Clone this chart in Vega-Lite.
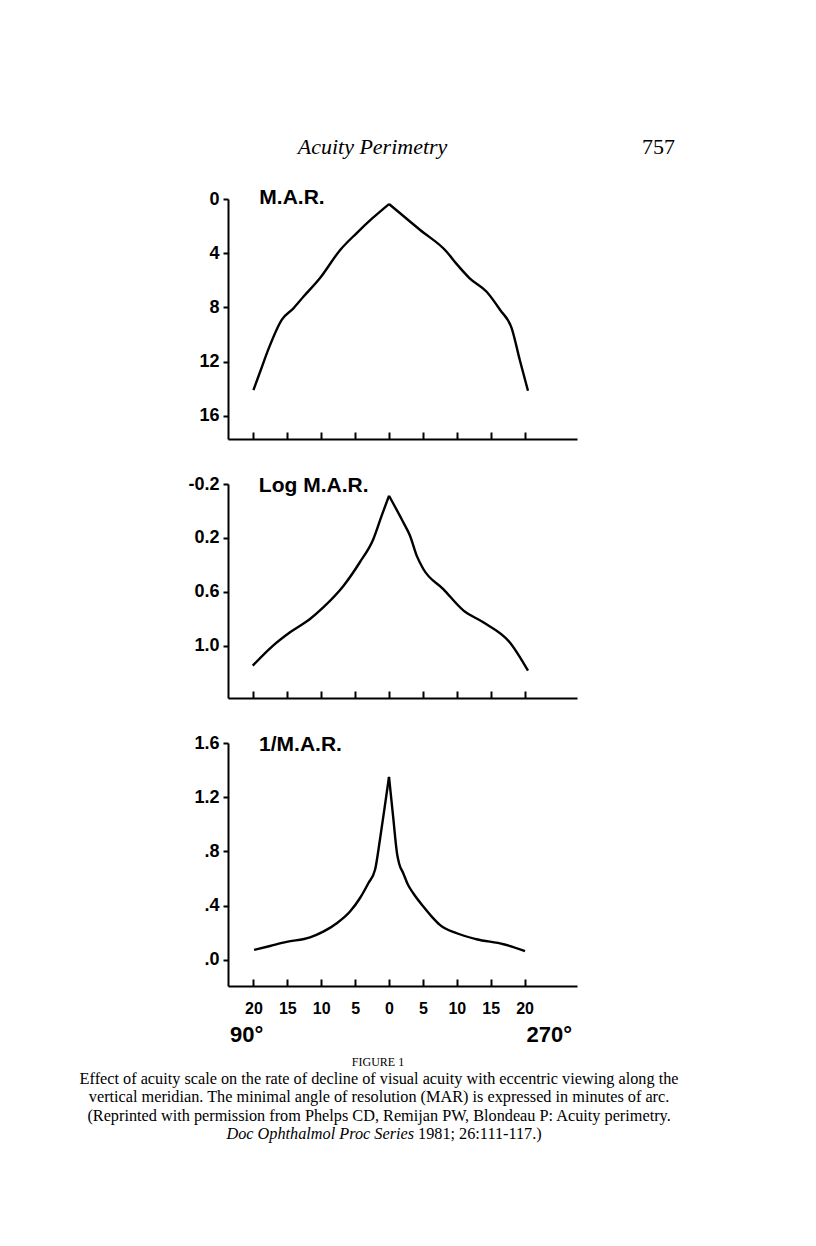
{
  "$schema": "https://vega.github.io/schema/vega-lite/v6.json",
  "background": "white",
  "padding": {"left": 79, "top": 136, "right": 5, "bottom": 5},
  "bounds": "flush",
  "spacing": 45,
  "config": {
    "view": {"stroke": null},
    "font": "Liberation Sans",
    "axis": {
      "grid": false,
      "title": null,
      "domainColor": "black",
      "domainWidth": 2,
      "tickColor": "black",
      "tickWidth": 2,
      "labelColor": "black",
      "labelFont": "Liberation Sans",
      "labelFontWeight": "bold",
      "labelFontSize": 18,
      "labelFlush": false,
      "labelOverlap": false
    },
    "axisY": {"tickSize": 5, "labelPadding": 4},
    "axisX": {"tickSize": -7, "labelFontSize": 16, "labelPadding": 21.6}
  },
  "datasets": {
    "mar": [
      {"side": "90", "ecc": -20.0, "mar": 14.1},
      {"side": "90", "ecc": -18.9, "mar": 12.6},
      {"side": "90", "ecc": -17.8, "mar": 11.1},
      {"side": "90", "ecc": -15.8, "mar": 8.9},
      {"side": "90", "ecc": -14.1, "mar": 8.07},
      {"side": "90", "ecc": -12.6, "mar": 7.2},
      {"side": "90", "ecc": -10.2, "mar": 5.85},
      {"side": "90", "ecc": -7.2, "mar": 3.76},
      {"side": "90", "ecc": -4.8, "mar": 2.53},
      {"side": "90", "ecc": -2.4, "mar": 1.4},
      {"side": "90", "ecc": 0.0, "mar": 0.37},
      {"side": "270", "ecc": 0.0, "mar": 0.37},
      {"side": "270", "ecc": 2.3, "mar": 1.33},
      {"side": "270", "ecc": 4.6, "mar": 2.29},
      {"side": "270", "ecc": 8.5, "mar": 3.89},
      {"side": "270", "ecc": 9.9, "mar": 4.75},
      {"side": "270", "ecc": 11.9, "mar": 5.85},
      {"side": "270", "ecc": 14.4, "mar": 6.84},
      {"side": "270", "ecc": 16.4, "mar": 8.19},
      {"side": "270", "ecc": 18.1, "mar": 9.54},
      {"side": "270", "ecc": 19.3, "mar": 11.9},
      {"side": "270", "ecc": 20.5, "mar": 14.15}
    ],
    "logmar": [
      {"side": "90", "ecc": -20.1, "logmar": 1.149},
      {"side": "90", "ecc": -17.1, "logmar": 1.0},
      {"side": "90", "ecc": -14.6, "logmar": 0.901},
      {"side": "90", "ecc": -11.65, "logmar": 0.802},
      {"side": "90", "ecc": -9.7, "logmar": 0.716},
      {"side": "90", "ecc": -6.7, "logmar": 0.555},
      {"side": "90", "ecc": -4.3, "logmar": 0.381},
      {"side": "90", "ecc": -2.3, "logmar": 0.208},
      {"side": "90", "ecc": -1.08, "logmar": 0.035},
      {"side": "90", "ecc": 0.0, "logmar": -0.113},
      {"side": "270", "ecc": 0.0, "logmar": -0.113},
      {"side": "270", "ecc": 2.1, "logmar": 0.084},
      {"side": "270", "ecc": 3.1, "logmar": 0.184},
      {"side": "270", "ecc": 4.08, "logmar": 0.332},
      {"side": "270", "ecc": 5.06, "logmar": 0.431},
      {"side": "270", "ecc": 8.0, "logmar": 0.58},
      {"side": "270", "ecc": 11.0, "logmar": 0.74},
      {"side": "270", "ecc": 13.9, "logmar": 0.827},
      {"side": "270", "ecc": 17.8, "logmar": 0.975},
      {"side": "270", "ecc": 20.5, "logmar": 1.186}
    ],
    "inv": [
      {"side": "90", "ecc": -19.9, "inv": 0.074},
      {"side": "90", "ecc": -17.55, "inv": 0.103},
      {"side": "90", "ecc": -15.1, "inv": 0.133},
      {"side": "90", "ecc": -11.65, "inv": 0.167},
      {"side": "90", "ecc": -9.7, "inv": 0.209},
      {"side": "90", "ecc": -7.7, "inv": 0.271},
      {"side": "90", "ecc": -5.75, "inv": 0.357},
      {"side": "90", "ecc": -4.3, "inv": 0.455},
      {"side": "90", "ecc": -3.05, "inv": 0.566},
      {"side": "90", "ecc": -2.06, "inv": 0.665},
      {"side": "90", "ecc": -1.33, "inv": 0.89},
      {"side": "90", "ecc": -0.66, "inv": 1.12},
      {"side": "90", "ecc": 0.0, "inv": 1.35},
      {"side": "270", "ecc": 0.0, "inv": 1.35},
      {"side": "270", "ecc": 0.6, "inv": 1.06},
      {"side": "270", "ecc": 1.2, "inv": 0.78},
      {"side": "270", "ecc": 1.5, "inv": 0.71},
      {"side": "270", "ecc": 2.1, "inv": 0.64},
      {"side": "270", "ecc": 2.8, "inv": 0.554},
      {"side": "270", "ecc": 3.6, "inv": 0.49},
      {"side": "270", "ecc": 5.06, "inv": 0.394},
      {"side": "270", "ecc": 6.3, "inv": 0.32},
      {"side": "270", "ecc": 7.5, "inv": 0.259},
      {"side": "270", "ecc": 10.0, "inv": 0.197},
      {"side": "270", "ecc": 12.9, "inv": 0.153},
      {"side": "270", "ecc": 16.9, "inv": 0.116},
      {"side": "270", "ecc": 20.06, "inv": 0.066}
    ]
  },
  "vconcat": [
    {
      "width": 349,
      "height": 240,
      "layer": [
        {
          "data": {"name": "mar"},
          "mark": {"type": "line", "color": "black", "strokeWidth": 2.4, "interpolate": "monotone"},
          "encoding": {
            "x": {
              "field": "ecc", "type": "quantitative",
              "scale": {"domain": [-23.75, 27.73], "nice": false, "zero": false},
              "axis": {"values": [-20, -15, -10, -5, 0, 5, 10, 15, 20], "labels": false}
            },
            "y": {
              "field": "mar", "type": "quantitative",
              "scale": {"domain": [0, 17.71], "reverse": true, "nice": false, "zero": false},
              "axis": {"values": [0, 2, 4, 6, 8, 10, 12, 14, 16], "labelExpr": "datum.value % 4 == 0 ? datum.label : ''"}
            },
            "detail": {"field": "side", "type": "nominal"}
          }
        },
        {
          "data": {"values": [{}]},
          "mark": {"type": "text", "font": "Liberation Sans", "fontWeight": "bold", "fontSize": 21, "letterSpacing": -0.4, "align": "left", "baseline": "alphabetic", "color": "black"},
          "encoding": {"x": {"datum": -19.13}, "y": {"datum": 0.37}, "text": {"value": "M.A.R."}}
        },
        {
          "data": {"values": [{}]},
          "mark": {"type": "text", "font": "Liberation Serif", "fontStyle": "italic", "fontSize": 22, "align": "center", "baseline": "alphabetic", "color": "black"},
          "encoding": {"x": {"datum": -2.43}, "y": {"datum": -3.32}, "text": {"value": "Acuity Perimetry"}}
        },
        {
          "data": {"values": [{}]},
          "mark": {"type": "text", "font": "Liberation Serif", "fontSize": 22, "align": "left", "baseline": "alphabetic", "color": "black"},
          "encoding": {"x": {"datum": 37.32}, "y": {"datum": -3.32}, "text": {"value": "757"}}
        }
      ]
    },
    {
      "width": 349,
      "height": 214,
      "layer": [
        {
          "data": {"name": "logmar"},
          "mark": {"type": "line", "color": "black", "strokeWidth": 2.4, "interpolate": "monotone"},
          "encoding": {
            "x": {
              "field": "ecc", "type": "quantitative",
              "scale": {"domain": [-23.75, 27.73], "nice": false, "zero": false},
              "axis": {"values": [-20, -15, -10, -5, 0, 5, 10, 15, 20], "labels": false}
            },
            "y": {
              "field": "logmar", "type": "quantitative",
              "scale": {"domain": [-0.2, 1.389], "reverse": true, "nice": false, "zero": false},
              "axis": {"values": [-0.2, 0, 0.2, 0.4, 0.6, 0.8, 1.0, 1.2], "labelExpr": "(round(datum.value * 10) + 2) % 4 == 0 ? (datum.value < 0 ? '-' : '') + format(abs(datum.value), '.1f') : ''"}
            },
            "detail": {"field": "side", "type": "nominal"}
          }
        },
        {
          "data": {"values": [{}]},
          "mark": {"type": "text", "font": "Liberation Sans", "fontWeight": "bold", "fontSize": 21, "letterSpacing": -0.2, "align": "left", "baseline": "alphabetic", "color": "black"},
          "encoding": {"x": {"datum": -19.2}, "y": {"datum": -0.143}, "text": {"value": "Log M.A.R."}}
        }
      ]
    },
    {
      "width": 349,
      "height": 243,
      "layer": [
        {
          "data": {"name": "inv"},
          "mark": {"type": "line", "color": "black", "strokeWidth": 2.4, "interpolate": "monotone"},
          "encoding": {
            "x": {
              "field": "ecc", "type": "quantitative",
              "scale": {"domain": [-23.75, 27.73], "nice": false, "zero": false},
              "axis": {"values": [-20, -15, -10, -5, 0, 5, 10, 15, 20], "labelExpr": "'' + abs(datum.value)"}
            },
            "y": {
              "field": "inv", "type": "quantitative",
              "scale": {"domain": [-0.192, 1.6], "nice": false, "zero": false},
              "axis": {"values": [0, 0.2, 0.4, 0.6, 0.8, 1.0, 1.2, 1.4, 1.6], "labelExpr": "round(datum.value * 10) % 4 == 0 ? (datum.value >= 1 ? format(datum.value, '.1f') : '.' + round(datum.value * 10)) : ''"}
            },
            "detail": {"field": "side", "type": "nominal"}
          }
        },
        {
          "data": {"values": [{}]},
          "mark": {"type": "text", "font": "Liberation Sans", "fontWeight": "bold", "fontSize": 21, "letterSpacing": -0.4, "align": "left", "baseline": "alphabetic", "color": "black"},
          "encoding": {"x": {"datum": -19.17}, "y": {"datum": 1.5435}, "text": {"value": "1/M.A.R."}}
        },
        {
          "data": {"values": [{}]},
          "mark": {"type": "text", "font": "Liberation Sans", "fontWeight": "bold", "fontSize": 22, "align": "left", "baseline": "alphabetic", "color": "black"},
          "encoding": {"x": {"datum": -23.45}, "y": {"datum": -0.6025}, "text": {"value": "90°"}}
        },
        {
          "data": {"values": [{}]},
          "mark": {"type": "text", "font": "Liberation Sans", "fontWeight": "bold", "fontSize": 22, "align": "right", "baseline": "alphabetic", "color": "black"},
          "encoding": {"x": {"datum": 27.0}, "y": {"datum": -0.6025}, "text": {"value": "270°"}}
        },
        {
          "data": {"values": [{}]},
          "mark": {"type": "text", "font": "Liberation Serif", "fontSize": 12, "letterSpacing": 0.6, "align": "center", "baseline": "alphabetic", "color": "black"},
          "encoding": {"x": {"datum": -1.62}, "y": {"datum": -0.7817}, "text": {"value": "FIGURE 1"}}
        },
        {
          "data": {"values": [{}]},
          "mark": {"type": "text", "font": "Liberation Serif", "fontSize": 16.25, "lineHeight": 18.5, "align": "center", "baseline": "alphabetic", "color": "black"},
          "encoding": {"x": {"datum": -1.47}, "y": {"datum": -0.9145}, "text": {"value": ["Effect of acuity scale on the rate of decline of visual acuity with eccentric viewing along the", "vertical meridian. The minimal angle of resolution (MAR) is expressed in minutes of arc.", "(Reprinted with permission from Phelps CD, Remijan PW, Blondeau P: Acuity perimetry."]}}
        },
        {
          "data": {"values": [{}]},
          "mark": {"type": "text", "font": "Liberation Serif", "fontStyle": "italic", "fontSize": 16.25, "align": "right", "baseline": "alphabetic", "color": "black"},
          "encoding": {"x": {"datum": 3.69}, "y": {"datum": -1.3237}, "text": {"value": "Doc Ophthalmol Proc Series"}}
        },
        {
          "data": {"values": [{}]},
          "mark": {"type": "text", "font": "Liberation Serif", "fontSize": 16.25, "align": "left", "baseline": "alphabetic", "color": "black"},
          "encoding": {"x": {"datum": 4.28}, "y": {"datum": -1.3237}, "text": {"value": "1981; 26:111-117.)"}}
        }
      ]
    }
  ]
}
